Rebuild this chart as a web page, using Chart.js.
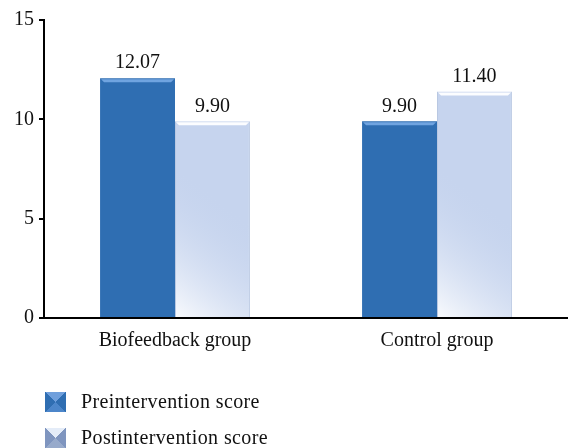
<!DOCTYPE html>
<html>
<head>
<meta charset="utf-8">
<script src="https://cdn.jsdelivr.net/npm/chart.js@4.4.1/dist/chart.umd.min.js"></script>
<style>
  html, body { margin: 0; padding: 0; background: #fff; }
  #wrap { position: relative; width: 568px; height: 448px; }
  #legend { position: absolute; left: 45px; top: 391px; font-family: 'Liberation Serif', serif; font-size: 20px; letter-spacing: 0.4px; color: #111; }
  .item { display: flex; align-items: center; height: 21px; margin-bottom: 15px; }
  .mark { width: 21px; height: 20px; margin-right: 15px; }
</style>
</head>
<body>
<div id="wrap">
  <canvas id="chart" width="568" height="448"></canvas>
  <div id="legend"></div>
</div>
<script>
// ---- Data ----
const groups    = ['Biofeedback group', 'Control group'];
const preScore  = [12.07, 9.90];
const postScore = [9.90, 11.40];
const yTicks    = [0, 5, 10, 15];

const FONT = 'Liberation Serif';

// ---- Bar decorations: gradient + top bevel + value labels ----
const barDeco = {
  id: 'barDeco',
  afterDatasetDraw(chart, args) {
    const ctx = chart.ctx;
    const meta = args.meta;
    ctx.save();
    meta.data.forEach(el => {
      const left = el.x - el.width / 2, right = el.x + el.width / 2;
      if (args.index === 1) {
        const g = ctx.createLinearGradient(left - 5, el.base + 5, right, el.base - 95);
        g.addColorStop(0, '#FFFFFF');
        g.addColorStop(1, 'rgba(198,212,238,0)');
        ctx.fillStyle = g;
        ctx.fillRect(left + 1, el.y, el.width - 2, el.base - el.y);
      }
      // bevel highlight on the top edge
      ctx.fillStyle = args.index === 0 ? 'rgba(120,170,228,0.9)' : 'rgba(255,255,255,0.95)';
      ctx.beginPath();
      ctx.moveTo(left + 1, el.y + 1);
      ctx.lineTo(right - 1, el.y + 1);
      ctx.lineTo(right - 4, el.y + 4);
      ctx.lineTo(left + 4, el.y + 4);
      ctx.closePath();
      ctx.fill();
    });
    ctx.restore();
  },
  afterDatasetsDraw(chart) {
    const ctx = chart.ctx;
    ctx.save();
    ctx.font = '20px ' + FONT;
    ctx.fillStyle = '#111';
    ctx.textAlign = 'center';
    ctx.textBaseline = 'bottom';
    chart.data.datasets.forEach((ds, i) => {
      chart.getDatasetMeta(i).data.forEach((el, j) => {
        ctx.fillText(ds.data[j].toFixed(2), el.x, el.y - 5);
      });
    });
    ctx.restore();
  }
};

const chart = new Chart(document.getElementById('chart'), {
  type: 'bar',
  data: {
    labels: groups,
    datasets: [
      { label: 'Preintervention score',  data: preScore,  backgroundColor: '#2F6EB2', borderWidth: 0 },
      { label: 'Postintervention score', data: postScore, backgroundColor: '#C6D4EE',
        borderColor: '#B9C8E2', borderWidth: { left: 1, right: 1, top: 0, bottom: 0 } }
    ]
  },
  options: {
    responsive: false,
    animation: false,
    events: [],
    layout: { padding: { top: 20, right: 0, bottom: 90, left: 0 } },
    datasets: { bar: { categoryPercentage: 0.572, barPercentage: 1 } },
    plugins: { legend: { display: false }, tooltip: { enabled: false } },
    scales: {
      x: {
        grid: { display: false },
        border: { color: '#000', width: 2 },
        ticks: { color: '#111', font: { family: FONT, size: 20 }, padding: 3 },
        afterFit: s => { s.height = 40; }
      },
      y: {
        min: 0, max: 15,
        afterBuildTicks: s => { s.ticks = yTicks.map(v => ({ value: v })); },
        grid: { drawOnChartArea: false, drawTicks: true, tickLength: 5, color: '#000', lineWidth: 2 },
        border: { color: '#000', width: 2 },
        ticks: { color: '#111', font: { family: FONT, size: 20 }, padding: 5 },
        afterFit: s => { s.width = 44; }
      }
    }
  },
  plugins: [barDeco]
});

// ---- Legend (vertical, bottom-left) ----
const markBg = [
  'conic-gradient(from -45deg, #6F9FDC 0 90deg, #2F6EB2 90deg 180deg, #4C86CA 180deg 270deg, #2F6EB2 270deg 360deg)',
  'conic-gradient(from -45deg, #E4ECF8 0 90deg, #7F95BF 90deg 180deg, #97AACB 180deg 270deg, #7F95BF 270deg 360deg)'
];
const legend = document.getElementById('legend');
chart.data.datasets.forEach((ds, i) => {
  const item = document.createElement('div');
  item.className = 'item';
  const m = document.createElement('div');
  m.className = 'mark';
  m.style.background = markBg[i];
  const t = document.createElement('span');
  t.textContent = ds.label;
  item.appendChild(m);
  item.appendChild(t);
  legend.appendChild(item);
});
</script>
</body>
</html>
